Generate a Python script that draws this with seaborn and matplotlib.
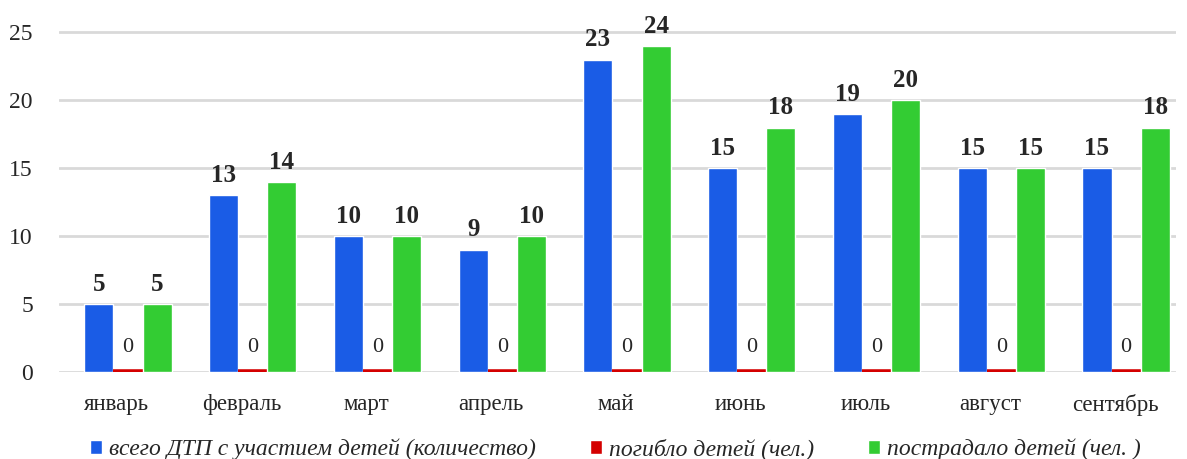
import pandas as pd
import matplotlib.pyplot as plt
import matplotlib.transforms as mtransforms
import seaborn as sns

# Data
months = ['январь', 'февраль', 'март', 'апрель', 'май', 'июнь', 'июль', 'август', 'сентябрь']
total_dtp = [5, 13, 10, 9, 23, 15, 19, 15, 15]
killed = [0, 0, 0, 0, 0, 0, 0, 0, 0]
injured = [5, 14, 10, 10, 24, 18, 20, 15, 18]
series_names = ['всего ДТП с участием детей (количество)', 'погибло детей (чел.)', 'пострадало детей (чел. )']

df = pd.DataFrame({
    'month': months * 3,
    'value': total_dtp + killed + injured,
    'series': [series_names[0]] * 9 + [series_names[1]] * 9 + [series_names[2]] * 9,
})

sns.set_style('white')
plt.rcParams['font.family'] = ['Liberation Serif', 'DejaVu Serif']

colors = ['#1a5ce6', '#d40000', '#33cc33']

fig = plt.figure(figsize=(11.87, 4.59), dpi=100)
ax = fig.add_axes([0.05, 0.1895, 0.9407, 0.793])

sns.barplot(data=df, x='month', y='value', hue='series', palette=colors,
            width=0.7, gap=0, ax=ax, legend=True, saturation=1)

ax.set_ylim(0, 26.8)
ax.set_xlim(-0.55, 8.4)
ax.set_yticks([0, 5, 10, 15, 20, 25])
ax.yaxis.grid(True, color='#d9d9d9', linewidth=2)
ax.set_axisbelow(True)
for s in ax.spines.values():
    s.set_visible(False)
ax.set_xlabel('')
ax.set_ylabel('')
ax.tick_params(axis='y', labelsize=17, pad=19, length=0)
ax.tick_params(axis='x', labelsize=16.5, pad=16, length=0)

# month labels sit a little left of the bar groups (3d look in original)
shift = mtransforms.ScaledTranslation(-11 / 100, 0, fig.dpi_scale_trans)
for lbl in ax.get_xticklabels():
    lbl.set_transform(lbl.get_transform() + shift)

# red zero bars: show as a thin line
for bar in ax.containers[1]:
    bar.set_edgecolor('#d40000')
    bar.set_linewidth(4)

ax.bar_label(ax.containers[0], fontsize=18, fontweight='bold', padding=6)
ax.bar_label(ax.containers[2], fontsize=18, fontweight='bold', padding=6)
ax.bar_label(ax.containers[1], fontsize=16, padding=11)

handles, labels = ax.get_legend_handles_labels()
ax.legend(handles, labels, loc='center', bbox_to_anchor=(0.498, -0.212), ncol=3,
          frameon=False, prop={'style': 'italic', 'size': 17},
          handlelength=0.5, handleheight=0.5, handletextpad=0.3, columnspacing=2.3,
          borderaxespad=0, borderpad=0)

fig.savefig('out.png', dpi=100)
